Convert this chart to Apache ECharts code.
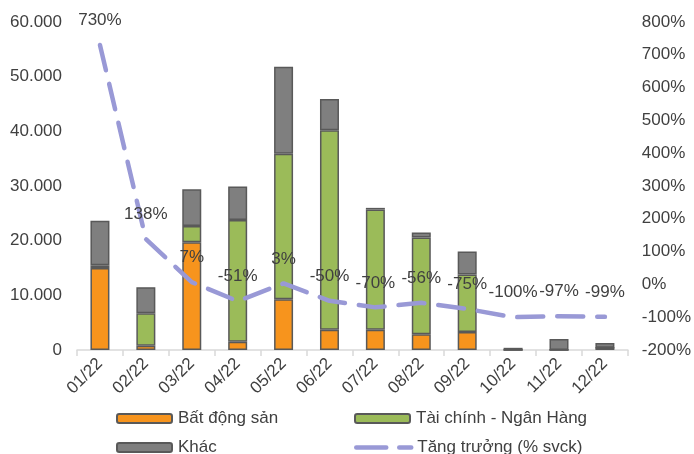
<!DOCTYPE html>
<html>
<head>
<meta charset="utf-8">
<style>
  html, body { margin: 0; padding: 0; background: #ffffff; }
  #chart { width: 694px; height: 454px; }
</style>
<script src="https://cdn.jsdelivr.net/npm/echarts@6/dist/echarts.min.js"></script>
</head>
<body>
<div id="chart"></div>
<script>
// Monthly issuance by sector (stacked) and year-on-year growth
const months = ['01/22', '02/22', '03/22', '04/22', '05/22', '06/22', '07/22', '08/22', '09/22', '10/22', '11/22', '12/22'];
const realEstate = [15000, 800, 19700, 1500, 9300, 3700, 3700, 2900, 3300, 0, 0, 400];
const finance = [500, 5900, 3000, 22300, 26600, 36500, 22000, 17700, 10500, 0, 0, 0];
const other = [8150, 4800, 6700, 6100, 15900, 5700, 300, 900, 4200, 400, 2000, 900];
const growth = [730, 138, 7, -51, 3, -50, -70, -56, -75, -100, -97, -99];

const FONT = 'Liberation Sans, Arial, sans-serif';
const TEXT = '#404040';
const BORDER = '#595959';
const LINE = '#9999d6';

const chart = echarts.init(document.getElementById('chart'));

function fmtThousands(v) {
  return String(v).replace(/\B(?=(\d{3})+(?!\d))/g, '.');
}

function barSeries(name, data, color) {
  return {
    name: name,
    type: 'bar',
    stack: 'total',
    data: data,
    barWidth: 19,
    itemStyle: { color: color, borderColor: BORDER, borderWidth: 1.5 },
    emphasis: { disabled: true }
  };
}

function legendAt(name, left, top, extra) {
  return Object.assign({
    data: [name],
    left: left,
    top: top,
    itemWidth: 55,
    itemHeight: 9,
    itemGap: 0,
    textStyle: { color: TEXT, fontSize: 17, fontFamily: FONT, padding: [0, 0, 0, 1] },
    selectedMode: false
  }, extra || {});
}

chart.setOption({
  animation: false,
  backgroundColor: '#ffffff',
  textStyle: { fontFamily: FONT },
  grid: { left: 77, right: 65, top: 22, bottom: 104, containLabel: false },
  legend: [
    legendAt('Bất động sản', 111, 405),
    legendAt('Tài chính - Ngân Hàng', 349, 405),
    legendAt('Khác', 111, 434),
    legendAt('Tăng trưởng (% svck)', 349, 434, {
      itemStyle: { opacity: 0 },
      lineStyle: { color: LINE, width: 4.5, type: [30, 13], cap: 'round' }
    })
  ],
  xAxis: {
    type: 'category',
    data: months,
    axisLine: { lineStyle: { color: '#d9d9d9', width: 1.5 } },
    axisTick: { show: true, alignWithLabel: false, length: 6, lineStyle: { color: '#d9d9d9', width: 1.5 } },
    axisLabel: { rotate: 45, color: TEXT, fontSize: 17, fontFamily: FONT, margin: 11, interval: 0 }
  },
  yAxis: [
    {
      type: 'value',
      min: 0, max: 60000, interval: 10000,
      axisLine: { show: false },
      axisTick: { show: false },
      splitLine: { show: false },
      axisLabel: { color: TEXT, fontSize: 17, fontFamily: FONT, margin: 15, formatter: fmtThousands }
    },
    {
      type: 'value',
      min: -200, max: 800, interval: 100,
      position: 'right',
      axisLine: { show: false },
      axisTick: { show: false },
      splitLine: { show: false },
      axisLabel: { color: TEXT, fontSize: 17, fontFamily: FONT, margin: 14, formatter: '{value}%' }
    }
  ],
  series: [
    barSeries('Bất động sản', realEstate, '#f7941d'),
    barSeries('Tài chính - Ngân Hàng', finance, '#9bbb59'),
    barSeries('Khác', other, '#7f7f7f'),
    {
      name: 'Tăng trưởng (% svck)',
      type: 'line',
      yAxisIndex: 1,
      data: growth,
      symbol: 'circle',
      symbolSize: 2,
      showSymbol: true,
      showAllSymbol: true,
      z: 3,
      lineStyle: { color: LINE, width: 4.5, type: [26, 14], cap: 'round' },
      itemStyle: { color: 'rgba(0,0,0,0)', borderWidth: 0 },
      label: {
        show: true,
        position: 'top',
        distance: 15,
        formatter: '{c}%',
        color: TEXT,
        fontSize: 17,
        fontFamily: FONT
      },
      labelLayout: { hideOverlap: false },
      emphasis: { disabled: true }
    }
  ]
});
</script>
</body>
</html>
